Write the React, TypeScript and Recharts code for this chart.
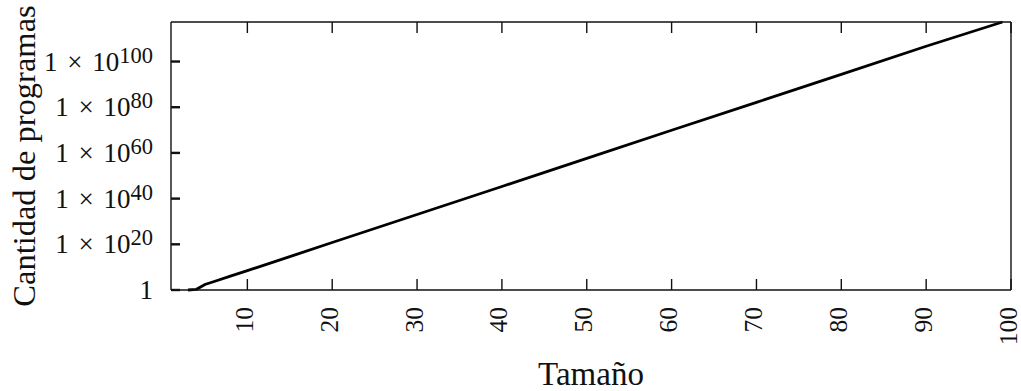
import { LineChart, Line, XAxis, YAxis } from "recharts";

// tamaño del programa y cantidad de programas
const sizes = [3, 4, 5, 6, 8, 10, 15, 20, 30, 40, 50, 60, 70, 80, 90, 99];
const programCounts = [
  1, 2, 2.5e2, 4e3, 1.2e6, 3e8, 4e14, 6e20, 1.1e33, 2e45, 4e57, 8e69, 1.3e82,
  2.5e94, 5e106, 2e117,
];

const xTicks = [10, 20, 30, 40, 50, 60, 70, 80, 90, 100];
const yTicks = [1, 1e20, 1e40, 1e60, 1e80, 1e100];

const data = sizes.map((size, i) => ({ size, count: programCounts[i] }));

const FONT = "'Liberation Serif', 'Times New Roman', serif";
const INK = "#111";

// tickSize negativo: y recibido = extremo interior de la marca
function BottomTick({ x, y, payload }: any) {
  const tx = x - 3;
  const ty = y + 28;
  return (
    <g>
      <rect x={x - 0.7} y={y} width={1.4} height={11} fill={INK} />
      <text
        x={tx}
        y={ty}
        transform={`rotate(-90, ${tx}, ${ty})`}
        textAnchor="end"
        dominantBaseline="central"
        fontFamily={FONT}
        fontSize={25.5}
        fill={INK}
      >
        {payload.value}
      </text>
    </g>
  );
}

function TopTick({ x, y }: any) {
  return <rect x={x - 0.7} y={y} width={1.4} height={11} fill={INK} />;
}

function LeftTick({ x, y, payload }: any) {
  const exp = Math.round(Math.log10(payload.value));
  return (
    <g>
      <rect x={x - 9} y={y - 1.2} width={9} height={2.4} fill={INK} />
      <text
        x={x - 27}
        y={y + 9}
        textAnchor="end"
        fontFamily={FONT}
        fontSize={27}
        fill={INK}
      >
        {exp === 0 ? (
          "1"
        ) : (
          <>
            <tspan>1 </tspan>
            <tspan dx={3}>× </tspan>
            <tspan dx={3}>10</tspan>
            <tspan dy={-8} fontSize={22.5}>
              {exp}
            </tspan>
          </>
        )}
      </text>
    </g>
  );
}

function RightTick({ x, y }: any) {
  return <rect x={x - 9} y={y - 1.2} width={9} height={2.4} fill={INK} />;
}

export default function App() {
  return (
    <div style={{ width: 1021, height: 391 }}>
      <style>{`body{margin:0}`}</style>
      <LineChart
        width={1021}
        height={391}
        data={data}
        margin={{ top: 21, right: 9, bottom: 0, left: 0 }}
      >
        <XAxis
          dataKey="size"
          type="number"
          domain={[1, 100]}
          ticks={xTicks}
          interval={0}
          height={101}
          tickSize={-11}
          tickMargin={0}
          tickLine={false}
          tick={<BottomTick />}
          axisLine={{ stroke: INK, strokeWidth: 1.4 }}
          label={{
            content: ({ viewBox }: any) => (
              <text
                x={viewBox.x + viewBox.width / 2}
                y={viewBox.y + 84}
                textAnchor="middle"
                dominantBaseline="central"
                fontFamily={FONT}
                fontSize={33}
                fill={INK}
              >
                Tamaño
              </text>
            ),
          }}
        />
        <XAxis
          xAxisId="top"
          orientation="top"
          dataKey="size"
          type="number"
          domain={[1, 100]}
          ticks={xTicks}
          interval={0}
          height={1}
          tickSize={0}
          tickMargin={0}
          tickLine={false}
          tick={<TopTick />}
          axisLine={{ stroke: INK, strokeWidth: 1.4 }}
        />
        <YAxis
          type="number"
          scale="log"
          domain={[1, 2e117]}
          ticks={yTicks}
          interval={0}
          width={171}
          tickSize={-9}
          tickMargin={0}
          tickLine={false}
          tick={<LeftTick />}
          axisLine={{ stroke: INK, strokeWidth: 1.4 }}
          label={{
            content: ({ viewBox }: any) => {
              const cx = 24;
              const cy = viewBox.y + viewBox.height / 2;
              return (
                <text
                  x={cx}
                  y={cy}
                  transform={`rotate(-90, ${cx}, ${cy})`}
                  textAnchor="middle"
                  dominantBaseline="central"
                  fontFamily={FONT}
                  fontSize={32.5}
                  fill={INK}
                >
                  Cantidad de programas
                </text>
              );
            },
          }}
        />
        <YAxis
          yAxisId="right"
          orientation="right"
          type="number"
          scale="log"
          domain={[1, 2e117]}
          ticks={yTicks}
          interval={0}
          width={1}
          tickSize={0}
          tickMargin={0}
          tickLine={false}
          tick={<RightTick />}
          axisLine={{ stroke: INK, strokeWidth: 1.4 }}
        />
        <Line
          dataKey="count"
          type="linear"
          stroke="#000"
          strokeWidth={2.8}
          dot={false}
          isAnimationActive={false}
        />
      </LineChart>
    </div>
  );
}
